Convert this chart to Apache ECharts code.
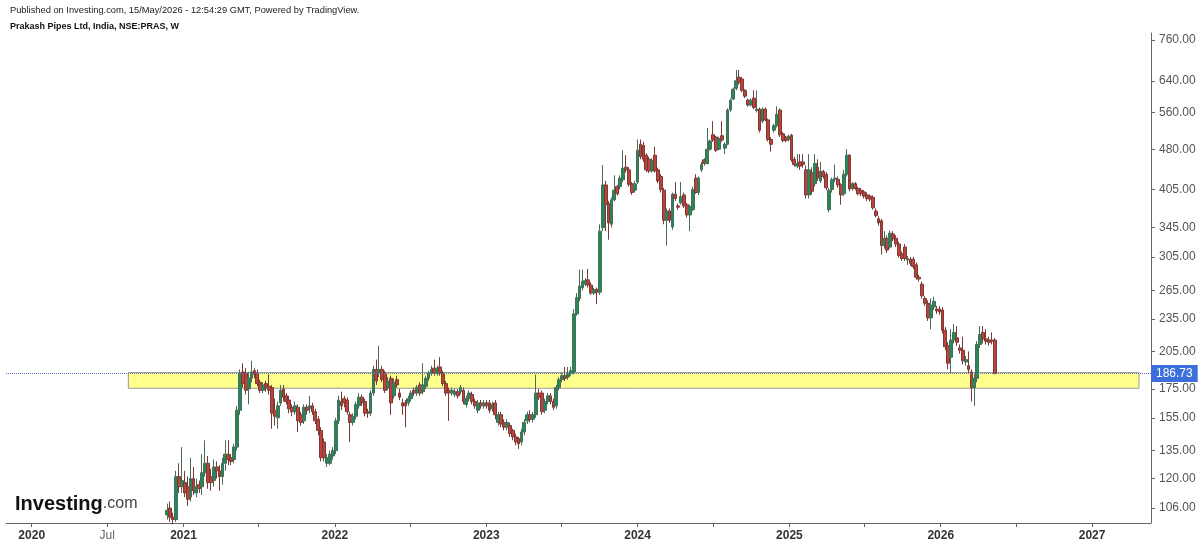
<!DOCTYPE html>
<html>
<head>
<meta charset="utf-8">
<script src="https://cdn.jsdelivr.net/npm/echarts@6/dist/echarts.min.js"></script>
<style>
  html, body { margin: 0; padding: 0; background: #fff; }
  #chart { width: 1200px; height: 545px; }
</style>
</head>
<body>
<div id="chart"></div>
<script>
// weekly candles, [open, close, low, high], one array per calendar year
const ohlc2020 = [
  [103,105,101,108],[106,102,100,109],[102,101,99,104],[101,121,100,124],[121,116,113,128],[116,119,113,137]
];
const ohlc2021 = [
  [118,113,111,124],[116,110,107,121],[111,120,109,131],[120,114,112,126],[113,116,111,120],
  [117,115,113,119],[116,123,112,133],[123,128,121,141],[128,118,115,132],[121,118,114,125],
  [119,126,116,130],[126,124,120,129],[124,121,114,127],[121,128,117,131],[128,133,124,141],
  [133,130,127,141],[131,129,127,133],[130,137,128,139],[137,160,135,163],[160,187,157,190],
  [188,179,176,195],[187,174,171,191],[175,183,164,188],[183,188,180,197],[189,186,183,191],
  [187,179,177,190],[180,174,172,182],[174,178,172,180],[179,176,173,181],[177,174,171,186],
  [176,158,148,178],[160,156,150,168],[155,163,148,166],[165,174,163,178],[175,169,166,178],
  [170,166,164,172],[167,161,158,170],[162,159,156,164],[159,163,157,166],[162,153,146,164],
  [157,152,150,159],[153,162,151,164],[162,160,157,164],[161,163,158,170],[163,159,157,165],
  [159,153,151,161],[154,147,144,156],[147,131,129,149],[140,131,129,142],[128,131,126,133],
  [128,133,127,135],[132,135,130,137]
];
const ohlc2022 = [
  [135,153,133,155],[153,167,151,170],[166,163,160,173],[168,165,162,170],[167,159,157,169],
  [157,152,140,159],[152,156,150,158],[156,164,154,166],[163,169,161,172],[169,165,163,171],
  [166,158,156,168],[159,158,155,161],[158,172,156,174],[172,190,170,193],[190,181,178,198],
  [187,190,184,210],[190,182,180,193],[187,174,172,189],[176,181,174,184],[183,165,157,185],
  [170,180,168,183],[182,178,176,185],[172,169,167,175],[165,163,157,168],[165,163,149,167],
  [165,168,163,170],[168,172,166,174],[174,172,170,176],[172,176,170,178],[178,172,170,180],
  [173,178,171,195],[177,183,175,185],[183,187,181,189],[187,190,185,193],[191,187,185,198],
  [187,191,185,193],[192,187,185,200],[187,179,177,189],[179,172,170,181],[174,172,153,176],
  [172,174,170,176],[171,173,169,175],[173,170,168,175],[173,176,171,178],[174,166,164,176],
  [164,168,162,170],[168,172,166,174],[171,166,164,173],[166,163,161,168],[160,165,158,167],
  [165,163,161,167],[163,165,161,167]
];
const ohlc2023 = [
  [165,163,161,167],[165,160,158,167],[161,164,159,166],[165,157,154,167],[152,157,150,159],
  [157,151,149,159],[152,149,147,154],[149,152,147,154],[150,145,143,152],[147,143,141,148],
  [143,140,138,145],[142,139,136,143],[140,146,138,148],[146,152,144,154],[153,157,151,159],
  [157,154,152,160],[154,157,152,159],[157,172,155,186],[172,169,167,175],[172,159,157,174],
  [160,166,158,168],[166,170,164,172],[170,166,164,172],[166,162,160,168],[163,176,161,178],
  [176,182,174,184],[182,185,180,187],[185,183,181,192],[184,187,182,192],[187,189,185,192],
  [188,240,186,245],[240,257,238,262],[256,270,253,289],[268,275,265,289],[272,276,270,279],
  [277,271,268,290],[271,262,260,274],[262,266,260,268],[266,263,250,268],[263,340,260,350],
  [345,413,340,449],[413,380,340,420],[382,352,328,386],[350,388,345,392],[388,404,385,430],
  [410,398,395,413],[410,425,405,430],[422,443,418,478],[445,440,435,468],[440,414,410,445],
  [415,400,396,418],[404,415,400,420]
];
const ohlc2024 = [
  [418,478,415,500],[490,465,460,500],[488,460,455,495],[468,440,436,472],[460,438,434,465],
  [438,458,435,462],[468,438,435,485],[440,420,416,444],[428,405,400,432],[404,356,350,408],
  [356,370,320,374],[370,356,352,374],[346,397,342,400],[397,390,386,418],[378,376,372,382],
  [383,393,380,418],[396,378,375,400],[380,364,360,383],[364,377,340,380],[372,405,370,410],
  [425,400,398,432],[400,425,396,428],[440,450,436,455],[459,452,448,462],[452,480,450,525],
  [480,497,477,500],[510,499,495,540],[505,478,474,508],[480,502,478,506],[508,499,495,540],
  [482,490,470,494],[490,566,488,570],[566,590,562,594],[593,618,590,622],[620,640,615,670],
  [650,635,630,670],[645,615,610,650],[615,600,595,618],[590,578,574,594],[578,590,575,594],
  [595,572,568,615],[565,568,560,615],[568,520,515,572],[540,568,535,572],[568,543,540,572],
  [543,500,496,546],[500,490,475,505],[520,530,515,534],[530,556,526,575],[566,510,505,570],
  [512,498,494,516],[505,498,494,508],[500,507,496,510]
];
const ohlc2025 = [
  [509,459,455,512],[460,450,446,465],[447,452,443,470],[455,447,440,470],[455,450,444,470],
  [440,396,390,448],[396,440,390,470],[435,402,396,445],[415,452,410,470],[445,425,420,460],
  [420,437,416,455],[437,428,424,440],[432,408,404,436],[372,404,368,408],[405,422,400,426],
  [423,425,418,450],[423,413,408,428],[413,396,380,416],[398,432,394,440],[432,468,428,480],
  [468,406,402,470],[407,415,403,418],[415,407,404,418],[407,398,395,410],[404,398,394,408],
  [401,394,390,404],[396,390,386,400],[394,389,385,397],[392,375,372,395],[370,363,360,374],
  [358,352,348,362],[355,320,308,358],[320,330,316,340],[330,314,310,334],[318,337,316,341],
  [336,329,326,340],[330,322,318,334],[322,307,304,325],[309,303,300,312],[318,303,300,322],
  [301,303,295,306],[302,297,294,305],[302,293,290,305],[295,280,277,298],[280,278,275,283],
  [272,259,256,275],[256,251,248,259],[251,236,233,254],[236,249,225,256],[247,253,244,258],
  [245,243,240,248],[245,242,239,248]
];
const ohlc2026 = [
  [244,224,221,247],[224,209,206,227],[210,195,190,213],[200,215,187,225],[215,222,212,230],
  [217,213,210,228],[208,206,203,211],[206,197,194,218],[196,198,193,201],[193,190,187,205],
  [188,176,166,190],[176,183,163,186],[183,211,180,214],[211,220,208,228],[222,216,212,228],
  [216,214,211,225],[215,213,210,218],[215,214,211,222],[215,186.73,186,217]
];

const firstWeek = '2020-11-23';
const yTicks = [106, 120, 135, 155, 175, 205, 235, 265, 305, 345, 405, 480, 560, 640, 760];
const xTickDates = ['2020-01-01','2020-07-01','2021-01-01','2021-07-01','2022-01-01','2022-07-01',
  '2023-01-01','2023-07-01','2024-01-01','2024-07-01','2025-01-01','2025-07-01','2026-01-01',
  '2026-07-01','2027-01-01'];
const xLabelDates = ['2020-01-01','2020-07-01','2021-01-01','2022-01-01','2023-01-01',
  '2024-01-01','2025-01-01','2026-01-01','2027-01-01'];
const lastPrice = 186.73;
const zone = { from: '2020-08-21', to: '2027-04-24', low: 175.5, high: 187.5 };

const WEEK = 7 * 24 * 3600 * 1000;
const ts = s => Date.parse(s + 'T00:00:00Z');
const weeks = [].concat(ohlc2020, ohlc2021, ohlc2022, ohlc2023, ohlc2024, ohlc2025, ohlc2026);
// price axis is logarithmic: plot ln(price), label with exp()
const candles = weeks.map((d, i) => [
  ts(firstWeek) + i * WEEK, Math.log(d[0]), Math.log(d[1]), Math.log(d[2]), Math.log(d[3])
]);

const chart = echarts.init(document.getElementById('chart'));
const font = 'Liberation Sans, Arial, sans-serif';

chart.setOption({
  animation: false,
  textStyle: { fontFamily: font },
  grid: { left: 6, right: 49, top: 33, bottom: 22 },
  graphic: [
    { type: 'text', left: 10, top: 6, style: { text: 'Published on Investing.com, 15/May/2026 - 12:54:29 GMT, Powered by TradingView.', font: '9.3px ' + font, fill: '#222' } },
    { type: 'text', left: 10, top: 22, style: { text: 'Prakash Pipes Ltd, India, NSE:PRAS, W', font: 'bold 9px ' + font, fill: '#111' } },
    { type: 'text', left: 15, top: 494, z: 10, style: { text: '{a|Investing}{b|.com}', rich: {
      a: { font: 'bold 20px ' + font, fill: '#111' },
      b: { font: '16px ' + font, fill: '#444' } } } }
  ],
  xAxis: {
    type: 'value',
    min: ts('2019-10-31'),
    max: ts('2027-05-23'),
    axisLine: { lineStyle: { color: '#666', width: 1 } },
    axisTick: { customValues: xTickDates.map(ts), length: 4, lineStyle: { color: '#666' } },
    splitLine: { show: false },
    axisLabel: {
      customValues: xLabelDates.map(ts),
      margin: 7,
      formatter: function (val) {
        const d = new Date(val);
        if (d.getUTCMonth() === 6) return '{m|Jul}';
        return '{y|' + d.getUTCFullYear() + '}';
      },
      rich: {
        y: { fontWeight: 'bold', fontSize: 12, color: '#333', fontFamily: font },
        m: { fontSize: 12, color: '#666', fontFamily: font }
      }
    }
  },
  yAxis: {
    type: 'value',
    position: 'right',
    min: Math.log(99.55),
    max: Math.log(782.7),
    axisLine: { show: true, lineStyle: { color: '#666', width: 1 } },
    axisTick: { show: true, customValues: yTicks.map(Math.log), length: 4, lineStyle: { color: '#666' } },
    splitLine: { show: false },
    axisLabel: {
      customValues: yTicks.map(Math.log),
      margin: 8,
      color: '#555',
      fontSize: 12,
      fontFamily: font,
      formatter: v => Math.exp(v).toFixed(2)
    }
  },
  series: [{
    type: 'candlestick',
    data: candles,
    barWidth: 3.3,
    itemStyle: {
      color: '#1f8c57',
      color0: '#c0413a',
      borderColor: '#4a6b59',
      borderColor0: '#7a3a36',
      borderWidth: 1
    },
    markArea: {
      silent: true,
      itemStyle: { color: '#ffff8c', borderColor: '#9a9a9a', borderWidth: 1 },
      data: [[
        { xAxis: ts(zone.from), yAxis: Math.log(zone.high) },
        { xAxis: ts(zone.to), yAxis: Math.log(zone.low) }
      ]]
    },
    markLine: {
      silent: true,
      symbol: 'none',
      lineStyle: { type: 'dotted', color: '#5577cc', width: 1 },
      label: {
        position: 'end',
        distance: 0,
        formatter: lastPrice.toFixed(2),
        backgroundColor: '#3d6fdc',
        color: '#fff',
        fontSize: 12,
        fontFamily: font,
        padding: [3, 5, 2, 5]
      },
      data: [{ yAxis: Math.log(lastPrice) }]
    }
  }]
});
</script>
</body>
</html>
